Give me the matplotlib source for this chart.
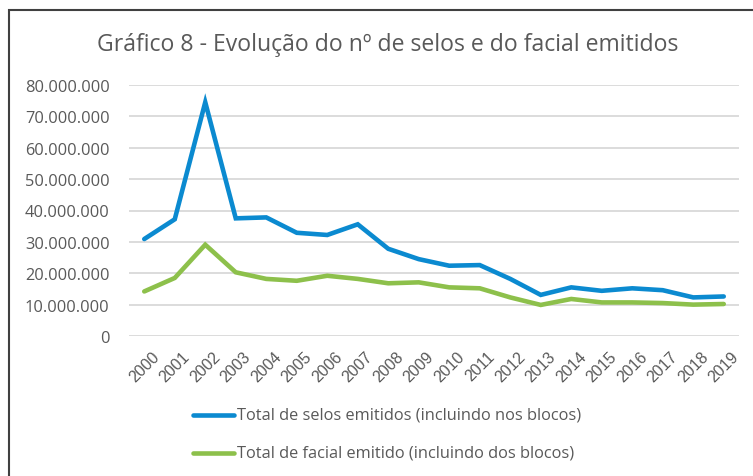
import matplotlib
matplotlib.use("Agg")
import matplotlib.pyplot as plt
from matplotlib.lines import Line2D
from matplotlib.patches import Rectangle

years = [str(y) for y in range(2000, 2020)]
selos = [30.9e6, 37.2e6, 74.5e6, 37.5e6, 37.8e6, 32.9e6, 32.2e6, 35.6e6, 27.8e6, 24.5e6,
         22.4e6, 22.6e6, 18.2e6, 13.1e6, 15.5e6, 14.4e6, 15.2e6, 14.6e6, 12.3e6, 12.6e6]
facial = [14.2e6, 18.5e6, 29.1e6, 20.3e6, 18.2e6, 17.6e6, 19.2e6, 18.2e6, 16.8e6, 17.1e6,
          15.5e6, 15.2e6, 12.3e6, 9.9e6, 11.8e6, 10.7e6, 10.7e6, 10.5e6, 10.0e6, 10.2e6]
yticks = list(range(0, 80000001, 10000000))
ytick_labels = ["0", "10.000.000", "20.000.000", "30.000.000", "40.000.000",
                "50.000.000", "60.000.000", "70.000.000", "80.000.000"]
title = "Gráfico 8 - Evolução do nº de selos e do facial emitidos"
labels = ["Total de selos emitidos (incluindo nos blocos)",
          "Total de facial emitido (incluindo dos blocos)"]

blue = "#0B8AD0"
green = "#8DC04B"
txt = "#595959"

plt.rcParams['font.family'] = ['Open Sans', 'DejaVu Sans']

W, H = 753, 477
fig = plt.figure(figsize=(W / 100, H / 100), dpi=100)

# chart border
fig.add_artist(Rectangle((8.5 / W, -0.05), 1.0, 1 - 10.5 / H + 0.05, transform=fig.transFigure,
                         fill=False, edgecolor="#404040", linewidth=1.5))

ax = fig.add_axes([129 / W, 1 - 337 / H, (739 - 129) / W, (337 - 86) / H])
x = list(range(len(years)))
ax.plot(x, selos, color=blue, linewidth=3.3, solid_capstyle='round', solid_joinstyle='miter', zorder=3)
ax.plot(x, facial, color=green, linewidth=3.3, solid_capstyle='round', solid_joinstyle='miter', zorder=3)
ax.set_xlim(-0.5, len(years) - 0.5)
ax.set_ylim(0, 80000000)
ax.set_yticks(yticks)
ax.set_yticklabels(ytick_labels, color=txt, fontsize=11.8)
ax.set_xticks(x)
ax.set_xticklabels(years, rotation=45, ha='center', va='top', color=txt, fontsize=11.5,
                   family=['Liberation Sans', 'DejaVu Sans'])
ax.tick_params(axis='both', length=0)
ax.tick_params(axis='y', pad=14)
ax.tick_params(axis='x', pad=9)
ax.grid(axis='y', color="#D9D9D9", linewidth=1.3)
ax.set_axisbelow(True)
for s in ax.spines.values():
    s.set_visible(False)

fig.text(388 / W, 1 - 45 / H, title, ha='center', va='center', fontsize=16.6, color=txt)

# legend
for i, (lab, col) in enumerate(zip(labels, [blue, green])):
    yy = 1 - (416 + i * 38) / H
    fig.add_artist(Line2D([193 / W, 234 / W], [yy, yy], transform=fig.transFigure,
                          color=col, linewidth=3.3, solid_capstyle='round'))
    fig.text(237 / W, yy, lab, ha='left', va='center', fontsize=11.8, color=txt)

fig.savefig("out.png", dpi=100, facecolor="white")
